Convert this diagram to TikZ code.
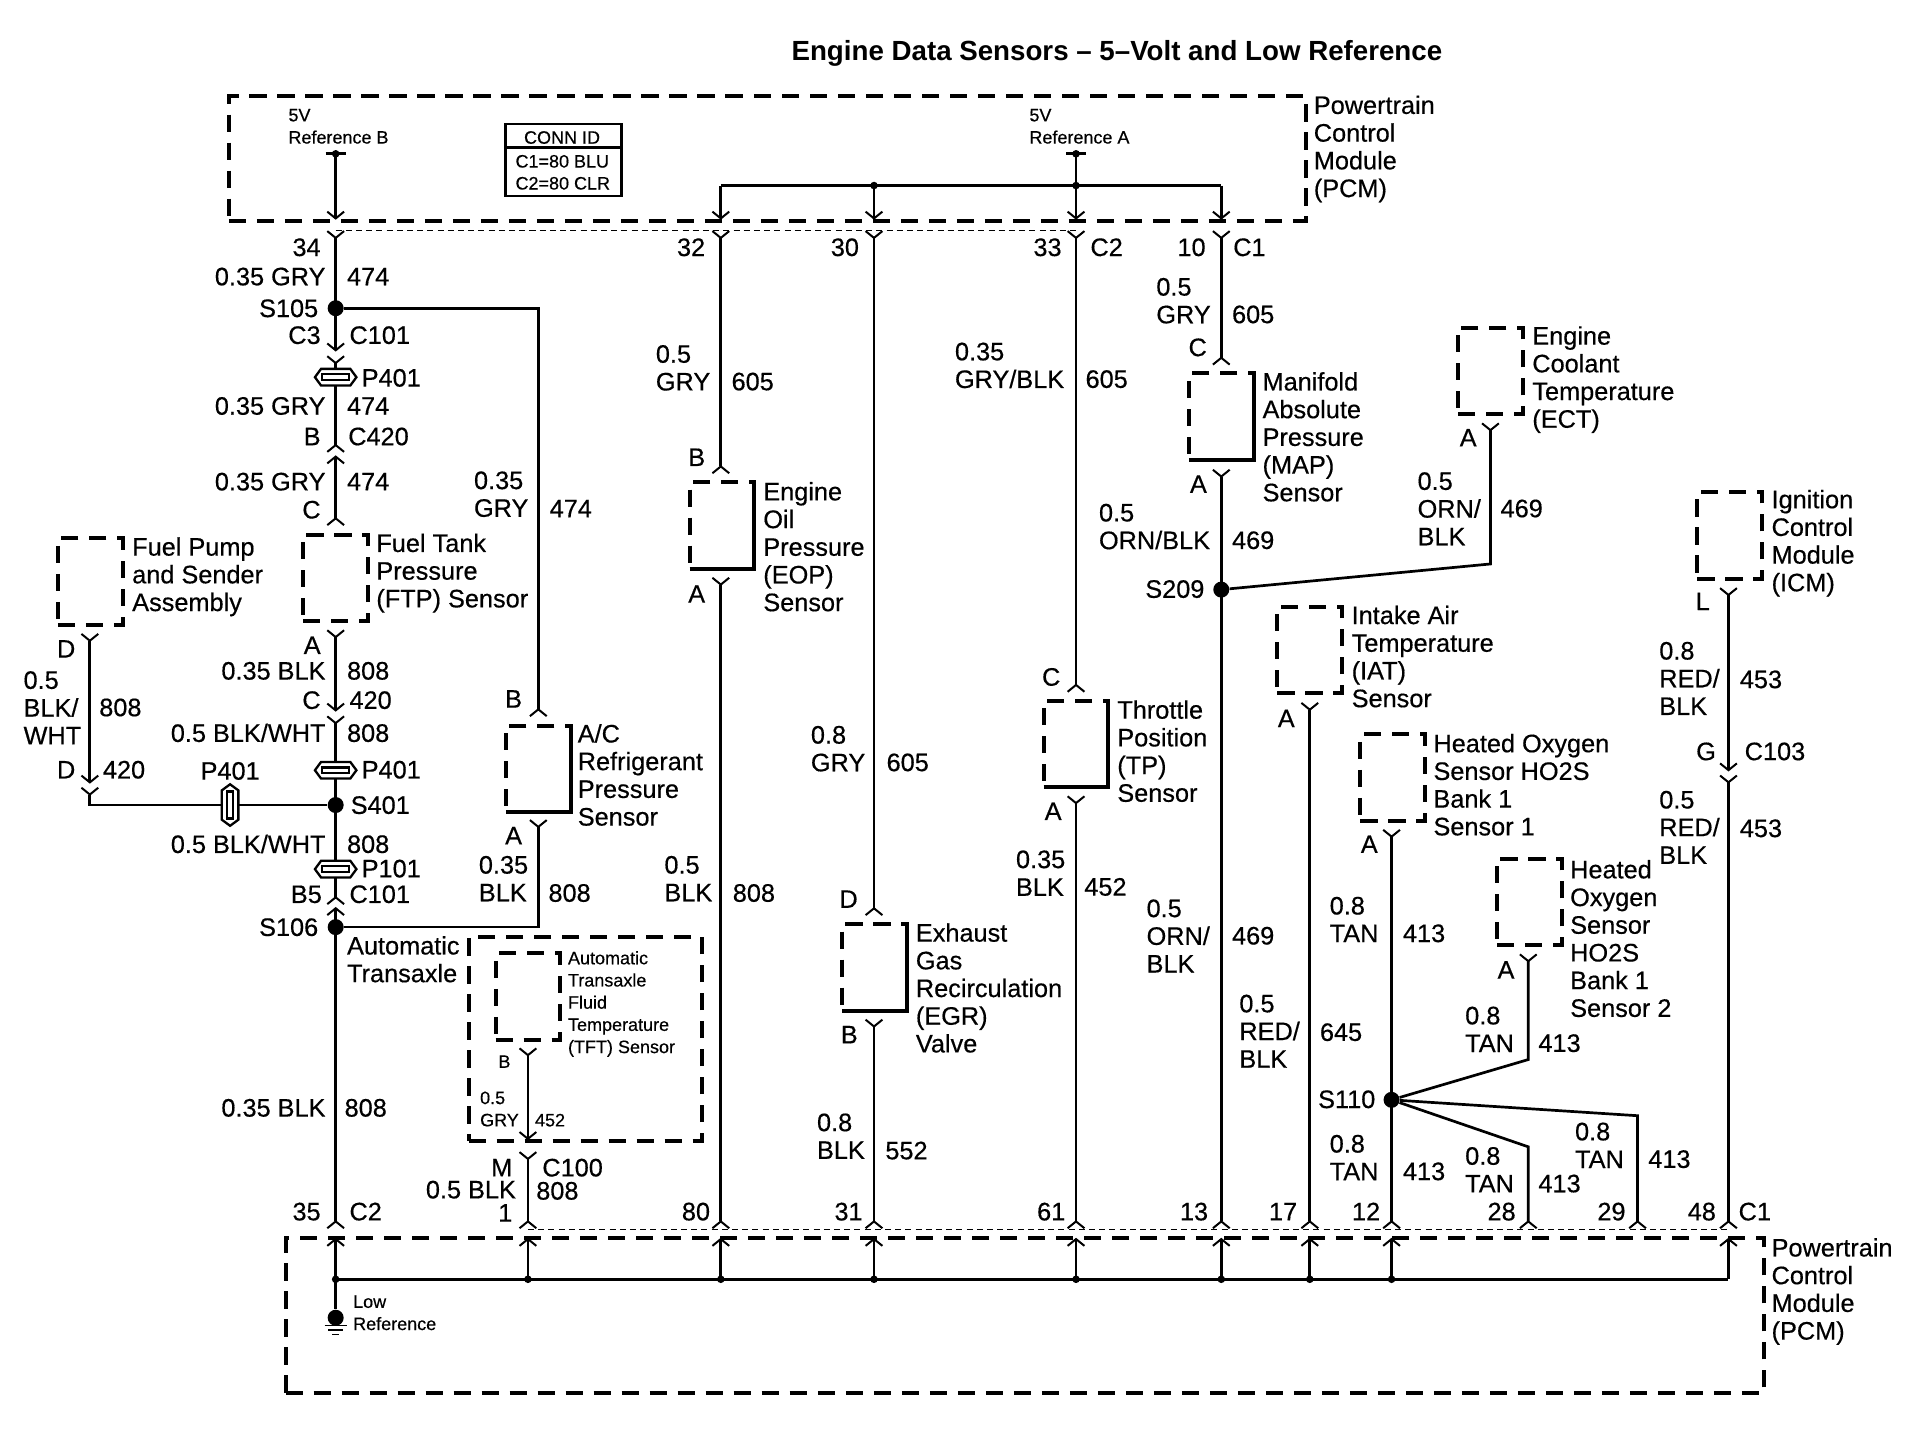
\documentclass[tikz,border=0pt]{standalone}
\usepackage{fontspec}
\usetikzlibrary{arrows.meta}
\setmainfont{Liberation Sans}
\newfontfamily\wirefont[FakeBold=0.45]{Liberation Sans}
\newcommand{\bigstrut}{\rule[-.9pt]{0pt}{10pt}}
\newcommand{\smallstrut}{\rule[-.7pt]{0pt}{7.2pt}}
\begin{document}
\begin{tikzpicture}[x=0.6103pt,y=-0.6103pt]
  \tikzset{plug/.tip={Straight Barb[length=3.4pt,width=8.4pt,line width=1pt]}};
  \tikzset{sock/.tip={Straight Barb[reversed,length=3.4pt,width=8.4pt,line width=1pt]}};
  \tikzset{wire/.style={line width=1.35pt}};
  \tikzset{hair/.style={line width=.6pt,dash pattern=on 3pt off 2.1pt}};
  \tikzset{module/.style={draw,line width=2pt,dash pattern=on 8.6pt off 5.4pt,inner sep=0pt,outer sep=0pt}};
  \tikzset{sensor/.style={module,minimum width=32.4pt,minimum height=43.4pt}};
  \tikzset{closed/.style={line width=2pt}};
  \tikzset{bigdot/.style={shape=circle,fill,inner sep=0pt,minimum size=8pt}};
  \tikzset{tinydot/.style={shape=circle,fill,inner sep=0pt,minimum size=3.8pt}};
  \tikzset{lab/.style={font=\wirefont\fontsize{12.65}{13.85}\selectfont,inner sep=0pt,align=left,anchor=west,execute at begin node=\bigstrut,execute at end node=\bigstrut}};
  \tikzset{labr/.style={lab,align=right,anchor=east}};
  \tikzset{tiny/.style={font=\wirefont\fontsize{9}{11.1}\selectfont,inner sep=0pt,align=left,anchor=west,execute at begin node=\smallstrut,execute at end node=\smallstrut}};
  \tikzset{splice/.pic={
    \draw[fill=white,line width=1.15pt] (-17,0) -- (-12,-6.8) -- (12,-6.8) -- (17,0) -- (12,6.8) -- (-12,6.8) -- cycle;
    \draw[fill=white,line width=1.2pt] (-11,-2.4) rectangle (11,2.4);
  }};
  \useasboundingbox (0,0) rectangle (1568,1179.6);

  \node[font=\bfseries\fontsize{13.85}{15}\selectfont,inner sep=0pt] (Title) at (915,44) {Engine Data Sensors -- 5--Volt and Low Reference};

  \node[module,minimum width=538.3pt,minimum height=62.3pt] (PcmTop) at (628.5,130) {};
  \node[module,minimum width=739pt,minimum height=77.5pt] (PcmLow) at (839.5,1078) {};
  \node[module,minimum width=116.6pt,minimum height=102pt] (Tax) at (479.5,851) {};
  \node[lab] (PcmTopT) at (1076,122) {Powertrain\\Control\\Module\\(PCM)};
  \node[lab] (PcmLowT) at (1451,1058) {Powertrain\\Control\\Module\\(PCM)};
  \node[lab] (TaxT) at (284,786.5) {Automatic\\Transaxle};

  \node[draw,line width=1.3pt,minimum width=58pt,minimum height=36pt,inner sep=0pt] (Conn) at (461.5,131) {};
  \node[tiny] (ConnA) at (429,113) {CONN ID};
  \node[tiny] (ConnB) at (422,132.5) {C1=80 BLU};
  \node[tiny] (ConnC) at (422,150.5) {C2=80 CLR};
  \coordinate (ConnL) at (414,121); \coordinate (ConnR) at (509,121);
  \draw[line width=1.3pt] (ConnL) -- (ConnR);

  \node[sensor] (Fpa) at (74,476.5) {};
  \node[sensor] (Ftp) at (275,473.5) {};
  \node[sensor] (Ac) at (441,630) {};
  \node[sensor] (Eop) at (591.5,430.5) {};
  \node[sensor] (Egr) at (716.5,792.5) {};
  \node[sensor] (Tp) at (881.5,609.5) {};
  \node[sensor] (Map) at (1000.5,341.5) {};
  \node[sensor] (Ect) at (1221,304) {};
  \node[sensor] (Iat) at (1073,532.5) {};
  \node[sensor] (HoA) at (1141,637) {};
  \node[sensor] (HoB) at (1253,739) {};
  \node[sensor] (Icm) at (1417,438.5) {};
  \node[sensor] (Tft) at (432.5,816.5) {};
  \draw[closed] (Ac.north east) -- (Ac.south east) -- ([xshift=8pt]Ac.south west);
  \draw[closed] (Eop.north east) -- (Eop.south east) -- ([xshift=8pt]Eop.south west);
  \draw[closed] (Egr.north east) -- (Egr.south east) -- ([xshift=8pt]Egr.south west);
  \draw[closed] (Tp.north east) -- (Tp.south east) -- ([xshift=8pt]Tp.south west);
  \draw[closed] (Map.north east) -- (Map.south east) -- ([xshift=8pt]Map.south west);

  \node[lab] (FpaT) at (108,472.5) {Fuel Pump\\and Sender\\Assembly};
  \node[lab] (FtpT) at (308,469.5) {Fuel Tank\\Pressure\\(FTP) Sensor};
  \node[lab] (AcT) at (473,635.5) {A/C\\Refrigerant\\Pressure\\Sensor};
  \node[lab] (EopT) at (625,448.5) {Engine\\Oil\\Pressure\\(EOP)\\Sensor};
  \node[lab] (EgrT) at (750,810) {Exhaust\\Gas\\Recirculation\\(EGR)\\Valve};
  \node[lab] (TpT) at (915,616) {Throttle\\Position\\(TP)\\Sensor};
  \node[lab] (MapT) at (1034,358.5) {Manifold\\Absolute\\Pressure\\(MAP)\\Sensor};
  \node[lab] (EctT) at (1255,311) {Engine\\Coolant\\Temperature\\(ECT)};
  \node[lab] (IatT) at (1107,538.5) {Intake Air\\Temperature\\(IAT)\\Sensor};
  \node[lab] (HoAT) at (1174,643.5) {Heated Oxygen\\Sensor HO2S\\Bank 1\\Sensor 1};
  \node[lab] (HoBT) at (1286,769.5) {Heated\\Oxygen\\Sensor\\HO2S\\Bank 1\\Sensor 2};
  \node[lab] (IcmT) at (1451,445) {Ignition\\Control\\Module\\(ICM)};
  \node[tiny] (TftT) at (465,822.5) {Automatic\\Transaxle\\Fluid\\Temperature\\(TFT) Sensor};

  \node[tiny] (RefBT) at (236,104) {5V\\Reference B};
  \node[tiny] (RefAT) at (843,104) {5V\\Reference A};
  \node[tiny] (LowT) at (289,1076) {Low\\Reference};

  \node[tinydot] (RefB) at (275,126) {};
  \node[tinydot] (RefA) at (881.5,126) {};
  \node[tinydot] (Top30) at (716,152) {};
  \node[tinydot] (TopA) at (881.5,152) {};
  \coordinate (Top32) at (590.5,152); \coordinate (Top10) at (1000.5,152);
  \coordinate (Out34) at (275,180); \coordinate (Out32) at (590.5,180); \coordinate (Out30) at (716,180);
  \coordinate (Out33) at (881.5,180); \coordinate (Out10) at (1000.5,180);
  \coordinate (Pin34) at (275,188.5); \coordinate (Pin32) at (590.5,188.5); \coordinate (Pin30) at (716,188.5);
  \coordinate (Pin33) at (881.5,188.5); \coordinate (Pin10) at (1000.5,188.5);

  \draw[wire] ([xshift=-5pt]RefB.center) -- ([xshift=5pt]RefB.center);
  \draw[wire] ([xshift=-5pt]RefA.center) -- ([xshift=5pt]RefA.center);
  \draw[wire,-plug] (RefB.center) -- (Out34);
  \draw[wire,-plug] (RefA.center) -- (Out33);
  \draw[wire,-plug] (Top30.center) -- (Out30);
  \draw[wire,-plug] (Top32) -- (Out32);
  \draw[wire,-plug] (Top10) -- (Out10);
  \draw[wire] (Top32) -- (Top10);
  \draw[hair] (Pin34) -- (Pin33);

  \node[bigdot] (S105) at (275,252.5) {};
  \node[bigdot] (S401) at (275,659.5) {};
  \node[bigdot] (S106) at (275,759.5) {};
  \node[bigdot] (S209) at (1000.5,483) {};
  \node[bigdot] (S110) at (1140,901) {};

  \coordinate (C3a) at (275,288); \coordinate (C3b) at (275,291);
  \coordinate (BCa) at (275,371); \coordinate (BCb) at (275,373);
  \coordinate (FtpC) at (275,431); \coordinate (FtpA) at (275,515.5);
  \coordinate (CCa) at (275,583); \coordinate (CCb) at (275,586);
  \coordinate (BFa) at (275,741.5); \coordinate (BFb) at (275,743);
  \coordinate (Pin35) at (275,1007);
  \draw[wire,sock-plug] (Pin34) -- (S105.center) -- (C3a);
  \draw[wire,sock-sock] (C3b) -- (BCa);
  \draw[wire,plug-sock] (BCb) -- (FtpC);
  \draw[wire,sock-plug] (FtpA) -- (CCa);
  \draw[wire,sock-sock] (CCb) -- (BFa);
  \draw[wire,plug-sock] (BFb) -- (Pin35);
  \pic (PaSp) at (275,309) {splice};
  \pic (PbSp) at (275,631) {splice};
  \pic (PcSp) at (275,712) {splice};

  \coordinate (FpaD) at (73.6,518.5); \coordinate (FpaU) at (73.6,642); \coordinate (FpaV) at (73.6,644.5);
  \draw[wire,sock-plug] (FpaD) -- (FpaU);
  \draw[wire,sock-] (FpaV) |- (S401);
  \pic[rotate=90] (PdSp) at (188.5,659.5) {splice};

  \coordinate (AcB) at (441,587.5); \coordinate (AcA) at (441,671);
  \draw[wire,-sock] (S105) -| (AcB);
  \draw[wire,sock-] (AcA) |- (S106);

  \coordinate (TftB) at (432.5,858); \coordinate (TaxU) at (432.5,934); \coordinate (TaxV) at (432.5,943);
  \coordinate (Pin1) at (432.5,1007);
  \draw[wire,sock-plug] (TftB) -- (TaxU);
  \draw[wire,sock-sock] (TaxV) -- (Pin1);

  \coordinate (EopB) at (590.5,388.5); \coordinate (EopA) at (590.5,472.5); \coordinate (Pin80) at (590.5,1007);
  \draw[wire,sock-sock] (Pin32) -- (EopB);
  \draw[wire,sock-sock] (EopA) -- (Pin80);
  \coordinate (EgrD) at (716,750.5); \coordinate (EgrB) at (716,834.5); \coordinate (Pin31) at (716,1007);
  \draw[wire,sock-sock] (Pin30) -- (EgrD);
  \draw[wire,sock-sock] (EgrB) -- (Pin31);
  \coordinate (TpC) at (881.5,567.5); \coordinate (TpA) at (881.5,651.5); \coordinate (Pin61) at (881.5,1007);
  \draw[wire,sock-sock] (Pin33) -- (TpC);
  \draw[wire,sock-sock] (TpA) -- (Pin61);
  \coordinate (MapC) at (1000.5,299.5); \coordinate (MapA) at (1000.5,384); \coordinate (Pin13) at (1000.5,1007);
  \draw[wire,sock-sock] (Pin10) -- (MapC);
  \draw[wire,sock-sock] (MapA) -- (S209.center) -- (Pin13);
  \coordinate (EctA) at (1221,346); \coordinate (EctB) at (1221,462);
  \draw[wire,sock-] (EctA) -- (EctB) -- (S209);
  \coordinate (IatA) at (1073,575); \coordinate (Pin17) at (1073,1007);
  \draw[wire,sock-sock] (IatA) -- (Pin17);
  \coordinate (HoAA) at (1140,679); \coordinate (Pin12) at (1140,1007);
  \draw[wire,sock-sock] (HoAA) -- (S110.center) -- (Pin12);
  \coordinate (HoBA) at (1252,781); \coordinate (HoBB) at (1252,868);
  \draw[wire,sock-] (HoBA) -- (HoBB) -- (S110);
  \coordinate (BrA) at (1252,939.5); \coordinate (Pin28) at (1252,1007);
  \draw[wire,-sock] (S110) -- (BrA) -- (Pin28);
  \coordinate (BrB) at (1341.5,914); \coordinate (Pin29) at (1341.5,1007);
  \draw[wire,-sock] (S110) -- (BrB) -- (Pin29);
  \coordinate (IcmL) at (1416,481); \coordinate (IcmU) at (1416,632); \coordinate (IcmV) at (1416,634.5); \coordinate (Pin48) at (1416,1007);
  \draw[wire,sock-plug] (IcmL) -- (IcmU);
  \draw[wire,sock-sock] (IcmV) -- (Pin48);
  \draw[hair] (Pin1) -- (Pin48);

  \node[tinydot] (Bus35) at (275,1048) {};
  \node[tinydot] (Bus1) at (432.5,1048) {};
  \node[tinydot] (Bus80) at (590.5,1048) {};
  \node[tinydot] (Bus31) at (716,1048) {};
  \node[tinydot] (Bus61) at (881.5,1048) {};
  \node[tinydot] (Bus13) at (1000.5,1048) {};
  \node[tinydot] (Bus17) at (1073,1048) {};
  \node[tinydot] (Bus12) at (1140,1048) {};
  \coordinate (Bus48) at (1416,1048);
  \coordinate (In35) at (275,1014); \coordinate (In1) at (432.5,1014); \coordinate (In80) at (590.5,1014);
  \coordinate (In31) at (716,1014); \coordinate (In61) at (881.5,1014); \coordinate (In13) at (1000.5,1014);
  \coordinate (In17) at (1073,1014); \coordinate (In12) at (1140,1014); \coordinate (In48) at (1416,1014);
  \draw[wire] (Bus35.center) -- (Bus48);
  \draw[wire,plug-] (In35) -- (Bus35.center);
  \draw[wire,plug-] (In1) -- (Bus1.center);
  \draw[wire,plug-] (In80) -- (Bus80.center);
  \draw[wire,plug-] (In31) -- (Bus31.center);
  \draw[wire,plug-] (In61) -- (Bus61.center);
  \draw[wire,plug-] (In13) -- (Bus13.center);
  \draw[wire,plug-] (In17) -- (Bus17.center);
  \draw[wire,plug-] (In12) -- (Bus12.center);
  \draw[wire,plug-] (In48) -- (Bus48);

  \node[bigdot] (Gnd) at (275,1079.5) {};
  \draw[wire] (Bus35.center) -- (Gnd);
  \coordinate (GndA) at (266,1086); \coordinate (GndB) at (284,1086);
  \coordinate (GndC) at (269,1089.7); \coordinate (GndD) at (281,1089.7);
  \coordinate (GndE) at (272,1093.4); \coordinate (GndF) at (278,1093.4);
  \draw[line width=.7pt] (GndA) -- (GndB) (GndC) -- (GndD) (GndE) -- (GndF);

  \node[labr] (N34) at (263,203) {34};
  \node[labr] (G1) at (267,227) {0.35 GRY};
  \node[lab] (W1) at (284,227) {474};
  \node[labr] (N105) at (261,253) {S105};
  \node[labr] (K1) at (263,275) {C3};
  \node[lab] (K2) at (286,275) {C101};
  \node[lab] (PaT) at (296,310) {P401};
  \node[labr] (G2) at (267,333) {0.35 GRY};
  \node[lab] (W2) at (284,333) {474};
  \node[labr] (K3) at (263,358) {B};
  \node[lab] (K4) at (285,358) {C420};
  \node[labr] (G3) at (267,395) {0.35 GRY};
  \node[lab] (W3) at (284,395) {474};
  \node[labr] (K5) at (263,418) {C};
  \node[labr] (K6) at (263,529) {A};
  \node[labr] (G4) at (267,550) {0.35 BLK};
  \node[lab] (W4) at (284,550) {808};
  \node[labr] (K7) at (263,574) {C};
  \node[lab] (K8) at (286,574) {420};
  \node[labr] (G5) at (267,601) {0.5 BLK/WHT};
  \node[lab] (W5) at (284,601) {808};
  \node[lab] (PbT) at (296,631) {P401};
  \node[lab] (N401) at (287,660) {S401};
  \node[labr] (G6) at (267,692) {0.5 BLK/WHT};
  \node[lab] (W6) at (284,692) {808};
  \node[lab] (PcT) at (296,712) {P101};
  \node[labr] (K9) at (264,733) {B5};
  \node[lab] (K10) at (286,733) {C101};
  \node[labr] (N106) at (261,760) {S106};
  \node[labr] (G7) at (267,908) {0.35 BLK};
  \node[lab] (W7) at (282,908) {808};
  \node[labr] (N35) at (263,993) {35};
  \node[lab] (K11) at (286,993) {C2};

  \node[labr] (K12) at (62,532) {D};
  \node[lab] (G8) at (19,580.5) {0.5\\BLK/\\WHT};
  \node[lab] (W8) at (81,580) {808};
  \node[labr] (K13) at (62,631) {D};
  \node[lab] (K14) at (84,631) {420};
  \node[lab] (PdT) at (164,632) {P401};

  \node[lab] (G9) at (388,405.5) {0.35\\GRY};
  \node[lab] (W9) at (450,417) {474};
  \node[labr] (K15) at (428,573) {B};
  \node[labr] (K16) at (428,685) {A};
  \node[lab] (G10) at (392,720.5) {0.35\\BLK};
  \node[lab] (W10) at (449,732) {808};

  \node[tiny] (K17) at (408,870) {B};
  \node[tiny] (G11) at (393,909) {0.5\\GRY};
  \node[tiny] (W11) at (438,918) {452};
  \node[labr] (K18) at (420,957) {M};
  \node[lab] (K19) at (444,957) {C100};
  \node[labr] (G12) at (423,975) {0.5 BLK};
  \node[lab] (W12) at (439,976) {808};
  \node[labr] (N1) at (420,994) {1};

  \node[labr] (N32) at (578,203) {32};
  \node[lab] (G13) at (537,302) {0.5\\GRY};
  \node[lab] (W13) at (599,313) {605};
  \node[labr] (K20) at (578,375) {B};
  \node[labr] (K21) at (578,487) {A};
  \node[lab] (G14) at (544,720.5) {0.5\\BLK};
  \node[lab] (W14) at (600,732) {808};
  \node[labr] (N80) at (582,993) {80};

  \node[labr] (N30) at (704,203) {30};
  \node[lab] (G15) at (664,614) {0.8\\GRY};
  \node[lab] (W15) at (726,625) {605};
  \node[labr] (K22) at (703,737) {D};
  \node[labr] (K23) at (703,848) {B};
  \node[lab] (G16) at (669,931.5) {0.8\\BLK};
  \node[lab] (W16) at (725,943) {552};
  \node[labr] (N31) at (707,993) {31};

  \node[labr] (N33) at (870,203) {33};
  \node[lab] (K24) at (893,203) {C2};
  \node[lab] (G17) at (782,300) {0.35\\GRY/BLK};
  \node[lab] (W17) at (889,311) {605};
  \node[labr] (K25) at (869,555) {C};
  \node[labr] (K26) at (870,665) {A};
  \node[lab] (G18) at (832,716) {0.35\\BLK};
  \node[lab] (W18) at (888,727) {452};
  \node[labr] (N61) at (873,993) {61};

  \node[labr] (N10) at (988,203) {10};
  \node[lab] (K27) at (1010,203) {C1};
  \node[lab] (G19) at (947,247) {0.5\\GRY};
  \node[lab] (W19) at (1009,258) {605};
  \node[labr] (K28) at (989,285) {C};
  \node[labr] (K29) at (989,397) {A};
  \node[lab] (G20) at (900,432) {0.5\\ORN/BLK};
  \node[lab] (W20) at (1009,443) {469};
  \node[labr] (N209) at (987,483) {S209};
  \node[labr] (K30) at (1210,359) {A};
  \node[lab] (G21) at (1161,417.5) {0.5\\ORN/\\BLK};
  \node[lab] (W21) at (1229,417) {469};
  \node[lab] (G22) at (939,767.5) {0.5\\ORN/\\BLK};
  \node[lab] (W22) at (1009,767) {469};
  \node[labr] (N13) at (990,993) {13};

  \node[labr] (K31) at (1061,589) {A};
  \node[lab] (G23) at (1015,845.5) {0.5\\RED/\\BLK};
  \node[lab] (W23) at (1081,846) {645};
  \node[labr] (N17) at (1063,993) {17};

  \node[labr] (K32) at (1129,692) {A};
  \node[lab] (G24) at (1089,754) {0.8\\TAN};
  \node[lab] (W24) at (1149,765) {413};
  \node[labr] (N110) at (1127,901) {S110};
  \node[lab] (G25) at (1089,949) {0.8\\TAN};
  \node[lab] (W25) at (1149,960) {413};
  \node[labr] (N12) at (1131,993) {12};

  \node[labr] (K33) at (1241,795) {A};
  \node[lab] (G26) at (1200,844) {0.8\\TAN};
  \node[lab] (W26) at (1260,855) {413};
  \node[lab] (G27) at (1200,959) {0.8\\TAN};
  \node[lab] (W27) at (1260,970) {413};
  \node[labr] (N28) at (1242,993) {28};
  \node[lab] (G28) at (1290,939) {0.8\\TAN};
  \node[lab] (W28) at (1350,950) {413};
  \node[labr] (N29) at (1332,993) {29};

  \node[labr] (K34) at (1401,493) {L};
  \node[lab] (G29) at (1359,556.5) {0.8\\RED/\\BLK};
  \node[lab] (W29) at (1425,557) {453};
  \node[labr] (K35) at (1406,616) {G};
  \node[lab] (K36) at (1429,616) {C103};
  \node[lab] (G30) at (1359,678.5) {0.5\\RED/\\BLK};
  \node[lab] (W30) at (1425,679) {453};
  \node[labr] (N48) at (1406,993) {48};
  \node[lab] (K37) at (1424,993) {C1};
\end{tikzpicture}
\end{document}
